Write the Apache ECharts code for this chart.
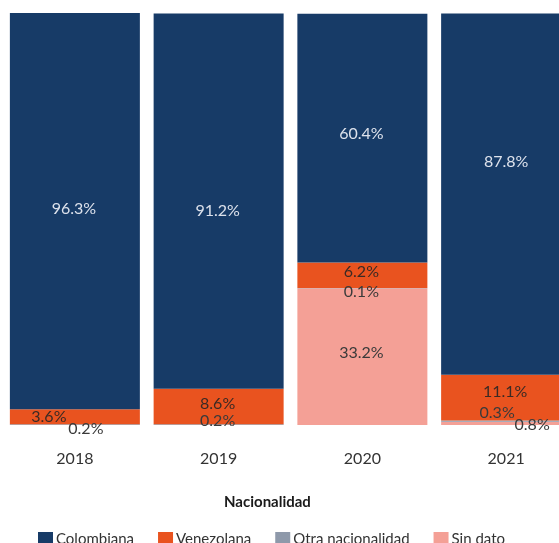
<!DOCTYPE html>
<html>
<head>
<meta charset="utf-8">
<script src="https://cdn.jsdelivr.net/npm/echarts@6/dist/echarts.min.js"></script>
<style>
  html, body { margin: 0; padding: 0; background: #fff; }
  #chart { width: 559px; height: 543px; }
</style>
</head>
<body>
<div id="chart"></div>
<script>
// Share of people by nationality, per year (percent)
const years = ['2018', '2019', '2020', '2021'];
const colombiana = [96.3, 91.2, 60.4, 87.8];
const venezolana = [3.6, 8.6, 6.2, 11.1];
const otraNacionalidad = [0.2, 0.2, 0.1, 0.3];
const sinDato = [null, null, 33.2, 0.8];

const FONT = 'Lato, "Noto Sans", sans-serif';

// Nudges that keep the small segment labels from piling up
const labelNudge = {
  'Colombiana': [[-1, -2], [-1, 10], [-1, -4], [0, -32]],
  'Venezolana': [[-26, 0], [-1, -3], [-1, -3], [-1, -6]],
  'Otra nacionalidad': [[11, 4], [-1, -4], [-1, 4], [-9, -8]],
  'Sin dato': [[0, 0], [0, 0], [-1, -4], [26, 1]]
};

function makeSeries(name, values, color, textColor) {
  return {
    name: name,
    type: 'bar',
    stack: 'total',
    barWidth: 130,
    itemStyle: { color: color },
    data: values.map(function (v, i) {
      return {
        value: v,
        label: { offset: labelNudge[name][i] }
      };
    }),
    label: {
      show: true,
      position: 'inside',
      formatter: function (p) { return p.value == null ? '' : p.value.toFixed(1) + '%'; },
      color: textColor,
      fontFamily: FONT,
      fontSize: 16
    }
  };
}

const chart = echarts.init(document.getElementById('chart'), null, { renderer: 'canvas' });
chart.setOption({
  animation: false,
  backgroundColor: '#ffffff',
  title: {
    text: 'Nacionalidad',
    left: 219,
    top: 490,
    textStyle: { fontFamily: FONT, fontSize: 15, fontWeight: 'bold', color: '#1a1a1a' }
  },
  legend: {
    left: 33,
    top: 527,
    itemWidth: 15,
    itemHeight: 15,
    itemGap: 24,
    icon: 'rect',
    textStyle: { fontFamily: FONT, fontSize: 15, color: '#333333', padding: [0, 0, 0, -2] },
    data: ['Colombiana', 'Venezolana', 'Otra nacionalidad', 'Sin dato']
  },
  // the last column runs past the right edge of the canvas
  grid: { left: 3, width: 575, top: 13, height: 412, outerBoundsMode: 'none' },
  xAxis: {
    type: 'category',
    data: years,
    axisLine: { show: false },
    axisTick: { show: false },
    axisLabel: { fontFamily: FONT, fontSize: 16, color: '#333333', margin: 26 }
  },
  yAxis: {
    type: 'value',
    min: 0,
    max: 100.1,
    show: false,
    splitLine: { show: false }
  },
  series: [
    makeSeries('Sin dato', sinDato, '#f4a096', '#3a3a3a'),
    makeSeries('Otra nacionalidad', otraNacionalidad, '#8e99aa', '#3a3a3a'),
    makeSeries('Venezolana', venezolana, '#e9531f', '#3b2a24'),
    makeSeries('Colombiana', colombiana, '#173b67', '#dde2ec')
  ]
});
</script>
</body>
</html>
